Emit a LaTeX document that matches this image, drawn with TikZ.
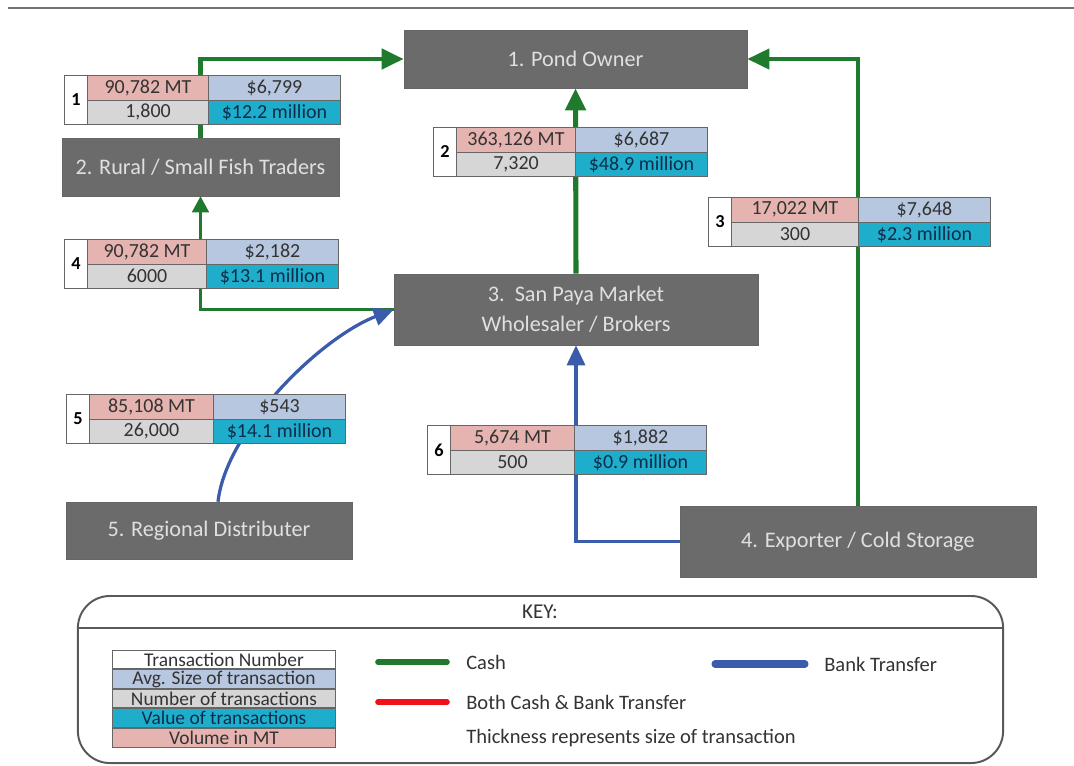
\documentclass[tikz,border=0pt]{standalone}
\usepackage{xcolor}
\usepackage{fontspec}
\setmainfont{Carlito}
\usepackage{tikz}
\usetikzlibrary{positioning,arrows.meta}

\definecolor{boxgray}{HTML}{6B6B6B}
\definecolor{volpink}{HTML}{E6B4B0}
\definecolor{avgblue}{HTML}{B7C7E0}
\definecolor{cntgray}{HTML}{D6D6D6}
\definecolor{valcyan}{HTML}{1EAECB}
\definecolor{valtext}{HTML}{0E2C4C}
\definecolor{cashgreen}{HTML}{1F7A2E}
\definecolor{bankblue}{HTML}{3A5CAA}
\definecolor{bothred}{HTML}{F0101A}

\tikzset{
  actor/.style={draw=black!60, fill=boxgray, text=white!88!black, inner sep=0pt,
    align=center, font=\fontsize{15.8}{21}\selectfont},
  cell/.style={draw=black!60, line width=0.7pt, inner sep=0pt, anchor=north west,
    minimum height=0.6125cm, text=black!80, font=\fontsize{14.2}{16}\selectfont},
  cash/.style={draw=cashgreen, line width=3.3pt, -{Triangle[length=0.55cm,width=0.5cm]}},
  cashthin/.style={draw=cashgreen, line width=1.6pt, -{Triangle[length=0.4cm,width=0.42cm]}},
  bank/.style={draw=bankblue, line width=2.3pt, -{Triangle[length=0.5cm,width=0.45cm]}},
  legrow/.style={draw=black!60, line width=0.7pt, inner sep=0pt, minimum width=5.55cm,
    minimum height=0.465cm, text=black!80, font=\fontsize{13.8}{15}\selectfont},
  keytext/.style={inner sep=0pt, anchor=west, text=black!80, font=\fontsize{14.6}{17}\selectfont},
  swatch/.style={line width=4pt, line cap=round},
}

% one transaction table: name, left x, top y, split x, number, volume, avg, count, value
\newcommand\trxtable[9]{%
  \pgfmathsetmacro\volw{(#4-#2-23)*0.025}%
  \node[cell, fill=white, minimum width=0.575cm, minimum height=1.225cm,
    text=black, font=\fontsize{13}{15}\selectfont\bfseries] (#1n) at (#2,#3) {#5};
  \node[cell, fill=volpink, minimum width=\volw cm] (#1v) at (#2+23,#3) {#6};
  \node[cell, fill=avgblue, minimum width=3.3cm] (#1a) at (#4,#3) {#7};
  \node[cell, fill=cntgray, minimum width=\volw cm] (#1c) at (#2+23,#3+24.5) {#8};
  \node[cell, fill=valcyan, minimum width=3.3cm, text=valtext] (#1w) at (#4,#3+24.5) {#9};
}

\begin{document}
\begin{tikzpicture}[x=0.025cm, y=-0.025cm]
\useasboundingbox (0,0) rectangle (1074,765);
\draw[black!55, line width=1.6pt] (8,8) -- (1074,8);

% actors
\node[actor, minimum width=8.575cm, minimum height=1.45cm] (pond) at (575.5,59) {1. Pond Owner};
\node[actor, minimum width=6.925cm, minimum height=1.45cm] (rural) at (200.5,167) {2. Rural / Small Fish Traders};
\node[actor, minimum width=9.1cm, minimum height=1.775cm] (sanpaya) at (576,309.5) {3.\ \ San Paya Market\\Wholesaler / Brokers};
\node[actor, minimum width=7.15cm, minimum height=1.425cm] (regional) at (209,530.5) {5. Regional Distributer};
\node[actor, minimum width=8.9cm, minimum height=1.775cm] (exporter) at (858,541.5) {4. Exporter / Cold Storage};

% flows
\draw[cash] (rural.north) |- (pond.west);
\draw[cash, line width=3.6pt] (sanpaya.north) -- (pond.south);
\draw[cash, line width=3pt] (exporter.north) |- (pond.east);
\draw[cashthin] (sanpaya.west) -| (rural.south);
\draw[bank] ([xshift=0.225cm]regional.north) .. controls (226,430) and (320,338) .. (sanpaya.west);
\draw[bank] (exporter.west) -| (sanpaya.south);

% transactions
\trxtable{ta}{64}{75}{208}{1}{90,782 MT}{\$6,799}{1,800}{\$12.2 million}
\trxtable{tb}{433}{127}{575}{2}{363,126 MT}{\$6,687}{7,320}{\$48.9 million}
\trxtable{tc}{708}{197}{858}{3}{17,022 MT}{\$7,648}{300}{\$2.3 million}
\trxtable{td}{64}{239}{206}{4}{90,782 MT}{\$2,182}{6000}{\$13.1 million}
\trxtable{te}{66}{394}{213}{5}{85,108 MT}{\$543}{26,000}{\$14.1 million}
\trxtable{tf}{427}{425}{574}{6}{5,674 MT}{\$1,882}{500}{\$0.9 million}

% key
\node[draw=black!65, line width=1.4pt, rounded corners=0.8cm, minimum width=23.125cm,
  minimum height=4.175cm] (key) at (540.5,679.5) {};
\draw[black!65, line width=1.4pt] (key.west |- 0,628) -- (key.east |- 0,628);
\node[inner sep=0pt, text=black!80, font=\fontsize{15}{17}\selectfont] (keytitle) at (540,612) {KEY:};

\node[legrow, fill=white] (lg1) at (224,659.5) {Transaction Number};
\node[legrow, fill=avgblue, below=0pt of lg1] (lg2) {Avg. Size of transaction};
\node[legrow, fill=cntgray, below=0pt of lg2] (lg3) {Number of transactions};
\node[legrow, fill=valcyan, below=0pt of lg3, text=valtext] (lg4) {Value of transactions};
\node[legrow, fill=volpink, below=0pt of lg4] (lg5) {Volume in MT};

\node[keytext] (cashlbl) at (466,662) {Cash};
\node[keytext] (banklbl) at (824,664) {Bank Transfer};
\node[keytext] (bothlbl) at (466,702) {Both Cash \& Bank Transfer};
\node[keytext] (thicklbl) at (466,738) {Thickness represents size of transaction};
\draw[swatch, cashgreen] ([xshift=-0.475cm]cashlbl.west) -- ++(-69,0);
\draw[swatch, bankblue, line width=5pt] ([xshift=-0.475cm]banklbl.west) -- ++(-90,0);
\draw[swatch, bothred] ([xshift=-0.475cm]bothlbl.west) -- ++(-69,0);

\end{tikzpicture}
\end{document}
